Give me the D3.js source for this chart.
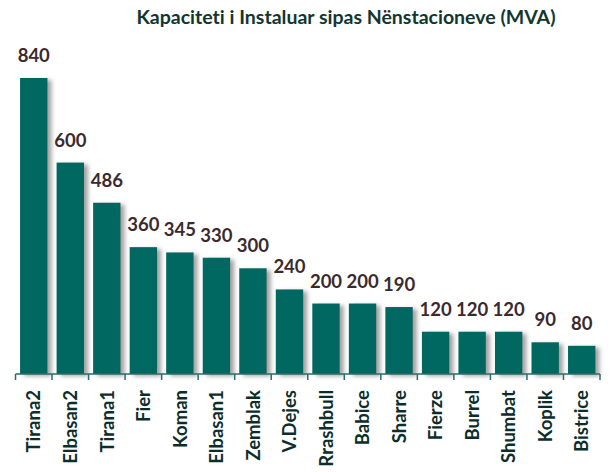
<!DOCTYPE html>
<html>
<head>
<meta charset="utf-8">
<script src="https://cdn.jsdelivr.net/npm/d3@7"></script>
<style>
  body { margin: 0; background: #fff; }
  text { font-family: Lato, "Open Sans", sans-serif; font-weight: bold; font-variant-ligatures: none; }
</style>
</head>
<body>
<div id="chart"></div>
<script>
// Data
const stations = ["Tirana2", "Elbasan2", "Tirana1", "Fier", "Koman", "Elbasan1", "Zemblak", "V.Dejes",
    "Rrashbull", "Babice", "Sharre", "Fierze", "Burrel", "Shumbat", "Koplik", "Bistrice"];
const capacity = [840, 600, 486, 360, 345, 330, 300, 240, 200, 200, 190, 120, 120, 120, 90, 80];
const title = "Kapaciteti i Instaluar sipas Nënstacioneve (MVA)";

const width = 611, height = 472;
const baseY = 374;

const svg = d3.select("#chart").append("svg")
    .attr("width", width)
    .attr("height", height);

// soft shadow behind the bars
const defs = svg.append("defs");
const f = defs.append("filter").attr("id", "shadow")
    .attr("x", "-20%").attr("y", "-5%").attr("width", "160%").attr("height", "120%");
f.append("feDropShadow")
    .attr("dx", 4).attr("dy", 2)
    .attr("stdDeviation", 2)
    .attr("flood-color", "#555")
    .attr("flood-opacity", 0.55);

const x = d3.scaleBand().domain(stations).range([15.5, 600]).padding(0);
const y = d3.scaleLinear().domain([0, 840]).range([baseY, 78]);
const bw = x.bandwidth() * 0.75;

const data = stations.map((s, i) => ({ name: s, value: capacity[i] }));

// Title
svg.append("text")
    .attr("x", 346).attr("y", 24)
    .attr("text-anchor", "middle")
    .attr("font-size", 19.5)
    .attr("fill", "#10372f")
    .text(title);

// Bars
svg.append("g").selectAll("rect")
    .data(data)
    .join("rect")
    .attr("x", (d) => x(d.name) + (x.bandwidth() - bw) / 2)
    .attr("y", (d) => y(d.value))
    .attr("width", bw)
    .attr("height", (d) => baseY - y(d.value))
    .attr("fill", "#026760")
    .attr("filter", "url(#shadow)");

// Value labels
svg.append("g").selectAll("text")
    .data(data)
    .join("text")
    .attr("x", (d) => x(d.name) + x.bandwidth() / 2)
    .attr("y", (d) => y(d.value) - 16)
    .attr("text-anchor", "middle")
    .attr("font-size", 18.5)
    .attr("fill", "#3a2a2f")
    .text((d) => d.value);

// Axis line with ticks at category boundaries
const axis = svg.append("g").attr("stroke", "#2b6d68").attr("stroke-width", 1.5);
axis.append("line")
    .attr("x1", x.range()[0]).attr("x2", x.range()[1])
    .attr("y1", baseY).attr("y2", baseY);
axis.selectAll(".tick")
    .data(stations.map((s) => x(s)).concat([x.range()[1]]))
    .join("line")
    .attr("x1", (d) => d).attr("x2", (d) => d)
    .attr("y1", baseY).attr("y2", baseY + 6);

// Category labels
svg.append("g").selectAll("text")
    .data(data)
    .join("text")
    .attr("transform", (d) => `translate(${x(d.name) + x.bandwidth() / 2},390) rotate(-90)`)
    .attr("dy", "0.36em")
    .attr("text-anchor", "end")
    .attr("font-size", 18.5)
    .attr("fill", "#0c2e2b")
    .text((d) => d.name);
</script>
</body>
</html>
